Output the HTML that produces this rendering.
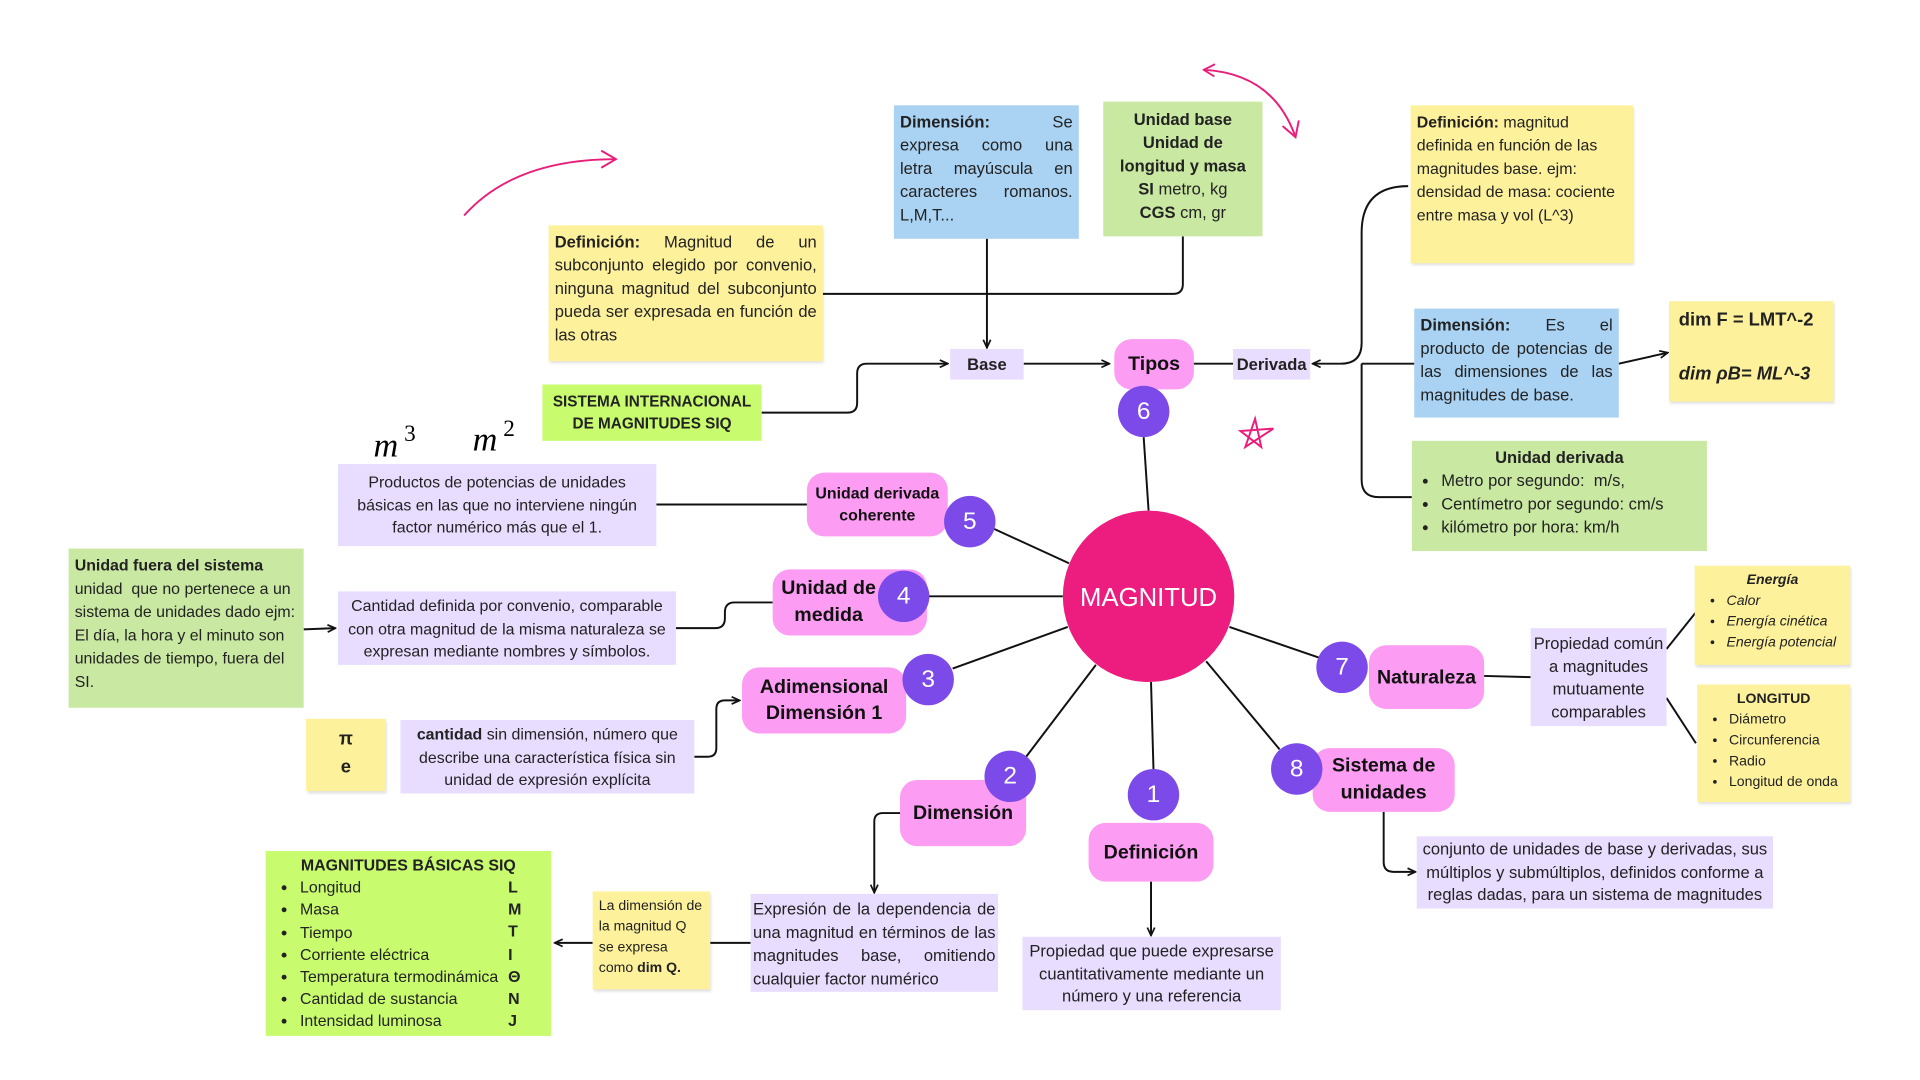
<!DOCTYPE html>
<html><head><meta charset="utf-8"><style>
html,body{margin:0;padding:0;background:#fff;width:1920px;height:1080px;overflow:hidden}
#s{position:absolute;left:0;top:0;width:1568px;height:882px;transform:scale(1.22449);transform-origin:0 0;font-family:"Liberation Sans",sans-serif;color:#222}
.b{position:absolute;box-sizing:border-box;font-size:13.5px;line-height:19px}
.lav{background:#e8dcff}
.blu{background:#a9d2f3}
.grn{background:#c9e8a2}
.bgr{background:#c9fb6f}
.yel{background:#fdf19b;box-shadow:1px 2px 2px rgba(0,0,0,.12)}
.pk{background:#fc9cf3;border-radius:14px;font-weight:bold;text-align:center;display:flex;align-items:center;justify-content:center;color:#111}
.c{position:absolute;border-radius:50%;background:#7c4ae8;color:#fff;display:flex;align-items:center;justify-content:center;font-size:20px}
.j{text-align:justify}
ul{margin:0;padding-left:16px}
</style></head><body><div id="s">
<svg width="1568" height="882" style="position:absolute;left:0;top:0">
<defs><marker id="a" markerUnits="userSpaceOnUse" markerWidth="8" markerHeight="8" refX="7" refY="4" orient="auto"><path d="M0.5,1 L7,4 L0.5,7" fill="none" stroke="#111" stroke-width="1.4"/></marker>
<marker id="p" markerUnits="userSpaceOnUse" markerWidth="16" markerHeight="16" refX="13" refY="8" orient="auto"><path d="M1,1 L13,8 L1,15" fill="none" stroke="#e91e7a" stroke-width="1.6"/></marker>
<marker id="ps" markerUnits="userSpaceOnUse" markerWidth="12" markerHeight="12" refX="1" refY="6" orient="auto"><path d="M10,1 L1,6 L10,11" fill="none" stroke="#e91e7a" stroke-width="1.5"/></marker></defs>
<g stroke="#111" stroke-width="1.6" fill="none">
<path d="M836,297 L906,297" marker-end="url(#a)"/>
<path d="M975,297 L1007,297"/>
<path d="M1150,152 Q1112,152 1112,190 L1112,280 Q1112,297 1095,297 L1072,297" marker-end="url(#a)"/>
<path d="M1155,297 L1112,297"/>
<path d="M1112,297 L1112,392 Q1112,406 1126,406 L1153,406"/>
<path d="M1322,297 L1362,288" marker-end="url(#a)"/>
<path d="M672,240 L806,240"/>
<path d="M806,195 L806,284" marker-end="url(#a)"/>
<path d="M966,193 L966,232 Q966,240 958,240 L806,240"/>
<path d="M622,337 L692,337 Q700,337 700,329 L700,305 Q700,297 708,297 L774,297" marker-end="url(#a)"/>
<path d="M934,357 L938,417"/>
<path d="M536,412 L659,412"/>
<path d="M812,432 L873,460"/>
<path d="M248,514 L274,513" marker-end="url(#a)"/>
<path d="M552,513 L584,513 Q592,513 592,505 L592,500 Q592,492 600,492 L631,492"/>
<path d="M758,487 L868,487"/>
<path d="M567,618 L578,618 Q585,618 585,611 L585,579 Q585,572 592,572 L604,572" marker-end="url(#a)"/>
<path d="M778,546 L872,512"/>
<path d="M838,618 L895,543"/>
<path d="M735,664 L721,664 Q714,664 714,671 L714,729" marker-end="url(#a)"/>
<path d="M613,770 L580,770"/>
<path d="M484,770 L453,770" marker-end="url(#a)"/>
<path d="M942,628 L940,557"/>
<path d="M940,720 L940,764" marker-end="url(#a)"/>
<path d="M1045,612 L985,540"/>
<path d="M1077,537 L1004,512"/>
<path d="M1212,552 L1250,553"/>
<path d="M1361,530 L1385,500"/>
<path d="M1361,570 L1385,607"/>
<path d="M1130,663 L1130,704 Q1130,712 1138,712 L1156,712" marker-end="url(#a)"/>
</g>
<g stroke="#e91e7a" stroke-width="1.6" fill="none">
<path d="M379,176 Q420,130 503,130" marker-end="url(#p)"/>
<path d="M983,57 Q1040,60 1058,112" marker-start="url(#ps)" marker-end="url(#p)"/>
<path d="M1025,342 L1030,365 L1013,352 L1040,350 L1017,365 Z"/>
</g>
<circle cx="938" cy="487" r="70" fill="#ec1d7f"/>
<text x="938" y="495" text-anchor="middle" fill="#fff" font-size="21" font-family="Liberation Sans">MAGNITUD</text>
<text x="305" y="373" font-size="28" font-style="italic" font-family="Liberation Serif">m</text><text x="330" y="360" font-size="19" font-family="Liberation Serif">3</text>
<text x="386" y="368" font-size="28" font-style="italic" font-family="Liberation Serif">m</text><text x="411" y="356" font-size="19" font-family="Liberation Serif">2</text>
</svg>

<div class="b lav" style="left:776px;top:285px;width:60px;height:25px;font-weight:bold;text-align:center;line-height:25px">Base</div>
<div class="b lav" style="left:1007px;top:285px;width:63px;height:25px;font-weight:bold;text-align:center;line-height:25px">Derivada</div>
<div class="b pk" style="left:910px;top:277px;width:65px;height:41px;font-size:16px">Tipos</div>
<div class="b pk" style="left:659px;top:386px;width:115px;height:52px;font-size:13px;line-height:18px">Unidad derivada<br>coherente</div>
<div class="b pk" style="left:631px;top:465px;width:126px;height:54px;font-size:16px;line-height:22px;justify-content:flex-start;padding-left:7px">Unidad de<br>medida</div>
<div class="b pk" style="left:606px;top:545px;width:134px;height:54px;font-size:16px;line-height:21px">Adimensional<br>Dimensión 1</div>
<div class="b pk" style="left:735px;top:637px;width:103px;height:54px;font-size:16px">Dimensión</div>
<div class="b pk" style="left:889px;top:672px;width:102px;height:48px;font-size:16px">Definición</div>
<div class="b pk" style="left:1118px;top:527px;width:94px;height:52px;font-size:16px">Naturaleza</div>
<div class="b pk" style="left:1072px;top:611px;width:116px;height:52px;font-size:16px;line-height:22px">Sistema de<br>unidades</div>

<div class="c" style="left:913px;top:315px;width:42px;height:42px">6</div>
<div class="c" style="left:771px;top:405px;width:42px;height:42px">5</div>
<div class="c" style="left:717px;top:466px;width:42px;height:42px">4</div>
<div class="c" style="left:737px;top:534px;width:42px;height:42px">3</div>
<div class="c" style="left:804px;top:613px;width:42px;height:42px">2</div>
<div class="c" style="left:921px;top:628px;width:42px;height:42px">1</div>
<div class="c" style="left:1075px;top:524px;width:42px;height:42px">7</div>
<div class="c" style="left:1038px;top:607px;width:42px;height:42px">8</div>

<div class="b blu j" style="left:730px;top:86px;width:151px;height:109px;padding:4px 5px"><b>Dimensión:</b> Se expresa como una letra mayúscula en caracteres romanos. L,M,T...</div>
<div class="b blu j" style="left:1155px;top:252px;width:167px;height:89px;padding:4px 5px"><b>Dimensión:</b> Es el producto de potencias de las dimensiones de las magnitudes de base.</div>
<div class="b grn" style="left:901px;top:83px;width:130px;height:110px;padding:5px 4px;text-align:center"><b>Unidad base<br>Unidad de longitud y masa<br>SI</b> metro, kg<br><b>CGS</b> cm, gr</div>
<div class="b grn" style="left:1153px;top:360px;width:241px;height:90px;padding:4px 8px"><div style="text-align:center;font-weight:bold">Unidad derivada</div><ul><li>Metro por segundo:&nbsp; m/s,</li><li>Centímetro por segundo: cm/s</li><li>kilómetro por hora: km/h</li></ul></div>
<div class="b grn" style="left:56px;top:448px;width:192px;height:130px;padding:4px 5px;font-size:13px"><b>Unidad fuera del sistema</b><br>unidad&nbsp; que no pertenece a un sistema de unidades dado ejm: El día, la hora y el minuto son unidades de tiempo, fuera del SI.</div>
<div class="b bgr" style="left:443px;top:314px;width:179px;height:46px;padding:5px 2px;text-align:center;font-weight:bold;font-size:12.5px;line-height:18px">SISTEMA INTERNACIONAL<br>DE MAGNITUDES SIQ</div>
<div class="b bgr" style="left:217px;top:695px;width:233px;height:151px;padding:3px 12px;font-size:13px;line-height:18.2px"><div style="text-align:center;font-weight:bold">MAGNITUDES BÁSICAS SIQ</div>
<ul style="position:relative"><li>Longitud</li><li>Masa</li><li>Tiempo</li><li>Corriente eléctrica</li><li>Temperatura termodinámica</li><li>Cantidad de sustancia</li><li>Intensidad luminosa</li></ul>
<div style="position:absolute;left:198px;top:21px;font-weight:bold;line-height:18.2px">L<br>M<br>T<br>I<br>Θ<br>N<br>J</div></div>

<div class="b yel j" style="left:448px;top:184px;width:224px;height:111px;padding:4px 5px"><b>Definición:</b> Magnitud de un subconjunto elegido por convenio, ninguna magnitud del subconjunto pueda ser expresada en función de las otras</div>
<div class="b yel" style="left:1152px;top:86px;width:182px;height:129px;padding:4px 5px;font-size:13px"><b>Definición:</b> magnitud definida en función de las magnitudes base. ejm: densidad de masa: cociente entre masa y vol (L^3)</div>
<div class="b yel" style="left:1363px;top:246px;width:134px;height:82px;padding:5px 8px;font-weight:bold;font-size:15px;line-height:22px">dim F = LMT^-2<br><br><i>dim ρB= ML^-3</i></div>
<div class="b yel" style="left:1384px;top:462px;width:127px;height:81px;padding:4px 8px;font-size:11.5px;line-height:17px;font-style:italic"><div style="text-align:center;font-weight:bold">Energía</div><ul style="padding-left:18px"><li>Calor</li><li>Energía cinética</li><li>Energía potencial</li></ul></div>
<div class="b yel" style="left:1386px;top:559px;width:125px;height:96px;padding:4px 8px;font-size:11.5px;line-height:17px"><div style="text-align:center;font-weight:bold">LONGITUD</div><ul style="padding-left:18px"><li>Diámetro</li><li>Circunferencia</li><li>Radio</li><li>Longitud de onda</li></ul></div>
<div class="b yel" style="left:250px;top:587px;width:65px;height:59px;padding:5px 0;text-align:center;font-weight:bold;font-size:15px;line-height:23px">π<br>e</div>
<div class="b yel" style="left:484px;top:728px;width:96px;height:80px;padding:4px 5px;font-size:11.5px;line-height:17px">La dimensión de la magnitud Q se expresa como <b>dim Q.</b></div>

<div class="b lav" style="left:276px;top:379px;width:260px;height:67px;padding:6px 5px;text-align:center;font-size:13px;line-height:18.5px">Productos de potencias de unidades básicas en las que no interviene ningún factor numérico más que el 1.</div>
<div class="b lav" style="left:276px;top:483px;width:276px;height:60px;padding:3px 3px;text-align:center;font-size:13px;line-height:18.5px">Cantidad definida por convenio, comparable con otra magnitud de la misma naturaleza se expresan mediante nombres y símbolos.</div>
<div class="b lav" style="left:327px;top:588px;width:240px;height:60px;padding:3px 4px;text-align:center;font-size:13px;line-height:18.5px"><b>cantidad</b> sin dimensión, número que describe una característica física sin unidad de expresión explícita</div>
<div class="b lav j" style="left:613px;top:730px;width:202px;height:80px;padding:3px 2px;font-size:13.5px">Expresión de la dependencia de una magnitud en términos de las magnitudes base, omitiendo cualquier factor numérico</div>
<div class="b lav" style="left:835px;top:765px;width:211px;height:60px;padding:3px 2px;text-align:center;font-size:13.5px;line-height:18.5px">Propiedad que puede expresarse cuantitativamente mediante un número y una referencia</div>
<div class="b lav" style="left:1250px;top:513px;width:111px;height:80px;padding:4px 2px;text-align:center;font-size:13.5px;line-height:18.5px">Propiedad común a magnitudes mutuamente comparables</div>
<div class="b lav" style="left:1157px;top:683px;width:291px;height:59px;padding:2px 2px;text-align:center;font-size:13.5px;line-height:18.5px">conjunto de unidades de base y derivadas, sus múltiplos y submúltiplos, definidos conforme a reglas dadas, para un sistema de magnitudes</div>
</div></body></html>
